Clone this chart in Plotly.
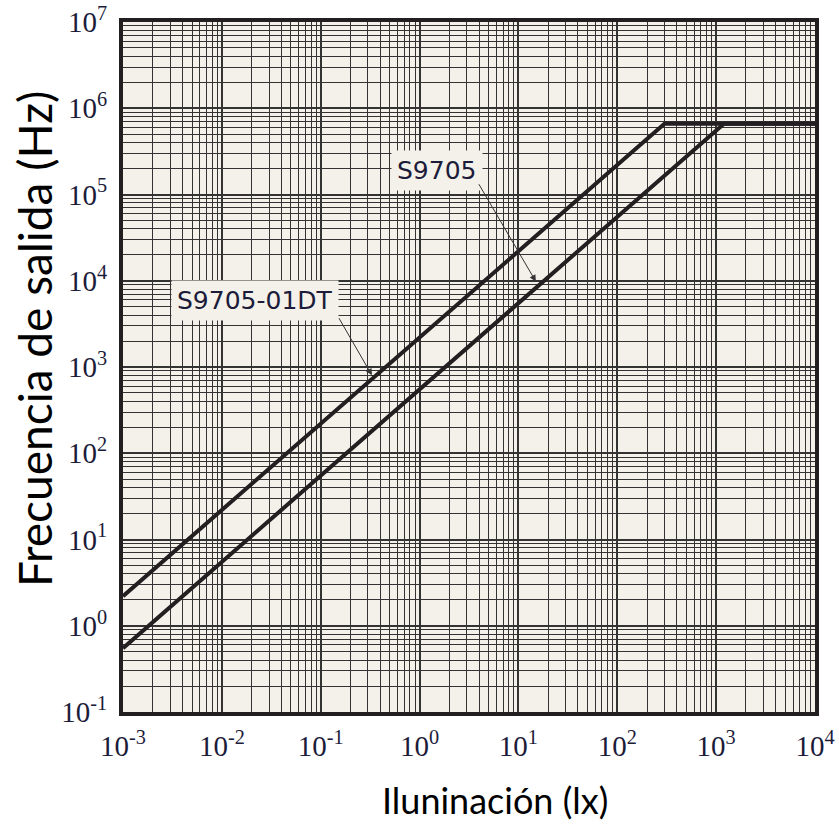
import numpy as np
import plotly.graph_objects as go

# ---- data ----
illum_01dt = [1e-3, 300, 1e4]
freq_01dt = [2.2, 6.6e5, 6.6e5]
illum_9705 = [1e-3, 1200, 1e4]
freq_9705 = [0.55, 6.6e5, 6.6e5]

x_exps = [-3, -2, -1, 0, 1, 2, 3, 4]
y_exps = [-1, 0, 1, 2, 3, 4, 5, 6, 7]
x_ticktext = ["10<sup>%d</sup>" % e for e in x_exps]
y_ticktext = ["10<sup>%d</sup>" % e for e in y_exps]

# label positions (data units)
lab_01dt = dict(text="S9705-01DT", x=0.0216, y=5.9e3,
                line_x=[3.5e-3, 0.150], line_y=3.83e3, tip=(0.33, 800))
lab_9705 = dict(text="S9705", x=1.5, y=1.9e5,
                line_x=[0.59, 3.9], line_y=1.37e5, tip=(15, 9.8e3))

BG = "#f4f1ea"
INK = "#231f20"
GRID = "#333333"
TXT = "#1c1c3a"

def minor_vals(exps):
    v = []
    for e in exps[:-1]:
        for m in range(2, 10):
            v.append(m * 10.0 ** e)
    return v

fig = go.Figure()

for lab in (lab_01dt, lab_9705):
    fig.add_trace(go.Scatter(x=lab["line_x"], y=[lab["line_y"]] * 2, mode="lines",
                             line=dict(color="#666666", width=1.2),
                             hoverinfo="skip", showlegend=False))

fig.add_trace(go.Scatter(x=illum_01dt, y=freq_01dt, mode="lines",
                         line=dict(color=INK, width=4), name="S9705-01DT",
                         showlegend=False))
fig.add_trace(go.Scatter(x=illum_9705, y=freq_9705, mode="lines",
                         line=dict(color=INK, width=4), name="S9705",
                         showlegend=False))

for lab in (lab_01dt, lab_9705):
    fig.add_annotation(x=np.log10(lab["x"]), y=np.log10(lab["y"]), xref="x", yref="y",
                       text=lab["text"], showarrow=False, bgcolor=BG, borderpad=5,
                       font=dict(family="DejaVu Sans", size=25, color=TXT))
    fig.add_annotation(x=np.log10(lab["tip"][0]), y=np.log10(lab["tip"][1]),
                       xref="x", yref="y", axref="x", ayref="y",
                       ax=np.log10(lab["line_x"][1]), ay=np.log10(lab["line_y"]),
                       text="", showarrow=True, arrowhead=2, arrowsize=1.3,
                       arrowwidth=1, arrowcolor="#333333", standoff=0)

# axis titles (positions relative to the plot area)
fig.add_annotation(text="Iluninación (lx)", xref="paper", yref="paper",
                   x=(495 - 123) / 692, y=-(800 - 712) / 690, showarrow=False,
                   xanchor="center", yanchor="middle",
                   font=dict(family="Lato", size=36, color="#000000"))
fig.add_annotation(text="Frecuencia de salida (Hz)", xref="paper", yref="paper",
                   x=-(123 - 34) / 692, y=(712 - 339) / 690, showarrow=False,
                   textangle=-90, xanchor="center", yanchor="middle",
                   font=dict(family="Lato", size=46, color="#000000"))

axis_common = dict(type="log", showline=True, mirror=True, linewidth=4, linecolor=INK,
                   showgrid=True, gridcolor=GRID, gridwidth=2, zeroline=False,
                   automargin=False, ticks="", ticklabeloverflow="allow",
                   tickfont=dict(family="Liberation Serif", size=29, color=TXT))

fig.update_xaxes(range=[-3, 4], tickmode="array",
                 tickvals=[10.0 ** e for e in x_exps], ticktext=x_ticktext,
                 minor=dict(tickmode="array", tickvals=minor_vals(x_exps),
                            showgrid=True, gridcolor=GRID, gridwidth=1, ticks=""),
                 ticklabelstandoff=5, **axis_common)
fig.update_yaxes(range=[-1, 7], tickmode="array",
                 tickvals=[10.0 ** e for e in y_exps], ticktext=y_ticktext,
                 minor=dict(tickmode="array", tickvals=minor_vals(y_exps),
                            showgrid=True, gridcolor=GRID, gridwidth=1, ticks=""),
                 ticklabelstandoff=6, **axis_common)

fig.update_layout(width=839, height=825, paper_bgcolor="white", plot_bgcolor=BG,
                  margin=dict(l=123, r=24, t=22, b=113), showlegend=False)

# remove the default 8px page margin so the figure fills the window exactly
fig.write_html("out.html", config={"displayModeBar": False},
               post_script="document.body.style.margin='0';document.body.style.overflow='hidden';")
